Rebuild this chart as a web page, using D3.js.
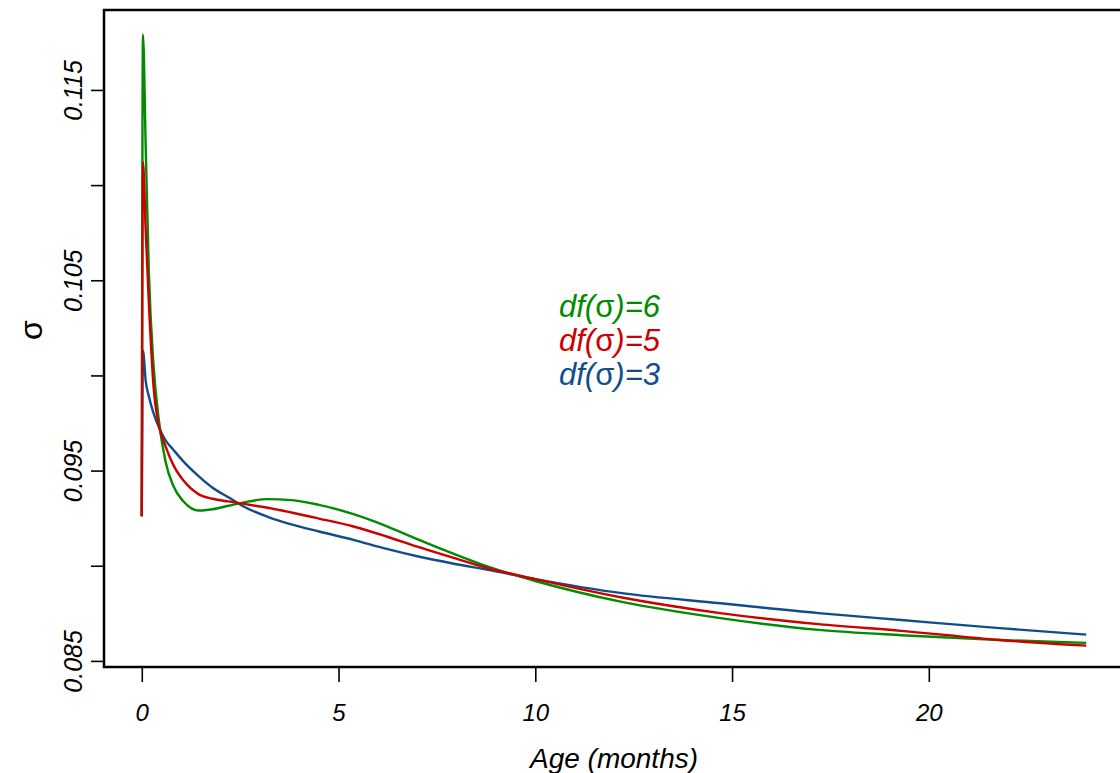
<!DOCTYPE html>
<html>
<head>
<meta charset="utf-8">
<script src="https://cdn.jsdelivr.net/npm/d3@7"></script>
<style>
  html, body { margin: 0; padding: 0; background: #ffffff; }
  svg { display: block; }
</style>
</head>
<body>
<svg id="chart" width="1120" height="773"></svg>
<script>
// ---- data ----
const ages      = [0, 0.03, 0.1, 0.18, 0.3, 0.43, 0.6, 0.8, 1.05, 1.45, 1.8, 2.2, 2.6, 3.2, 3.8, 4.5, 5.4, 6.2, 7, 7.9, 8.8, 10, 12.2, 14.7, 17.2, 19.3, 21.8, 24];
const sigmaDf6  = [0.0926, 0.1179, 0.1120, 0.1054, 0.1005, 0.0977, 0.0955, 0.0942, 0.0934, 0.0929, 0.09297, 0.09315, 0.09333, 0.0935, 0.09345, 0.0932, 0.0927, 0.0921, 0.0914, 0.09065, 0.08995, 0.0892, 0.0881, 0.08725, 0.08663, 0.08635, 0.0861, 0.08595];
const sigmaDf5  = [0.0926, 0.1112, 0.1076, 0.1038, 0.0994, 0.0974, 0.0963, 0.0953, 0.0945, 0.09375, 0.09352, 0.09338, 0.09325, 0.09305, 0.0928, 0.09248, 0.09205, 0.09155, 0.0910, 0.09043, 0.08987, 0.0893, 0.08833, 0.08751, 0.08693, 0.08658, 0.0861, 0.0858];
const sigmaDf3  = [0.0926, 0.1013, 0.0997, 0.0989, 0.0980, 0.0973, 0.0966, 0.0961, 0.0955, 0.0947, 0.0941, 0.0936, 0.0931, 0.09257, 0.09217, 0.0918, 0.09135, 0.0909, 0.0905, 0.09012, 0.08978, 0.0893, 0.08856, 0.08803, 0.08751, 0.08715, 0.08672, 0.08638];
const seriesNames  = ["df3", "df6", "df5"];
const seriesLabels = { df6: "6", df5: "5", df3: "3" };
const legendOrder  = ["df6", "df5", "df3"];
const xTicks = [0, 5, 10, 15, 20];
const yTicks = [0.085, 0.090, 0.095, 0.100, 0.105, 0.110, 0.115];
const yTickLabels = { "0.085": "0.085", "0.095": "0.095", "0.105": "0.105", "0.115": "0.115" };
const xTitle = "Age (months)";
const yTitle = "σ";

// ---- styles ----
const colors = { df6: "#008B00", df5: "#CD0000", df3: "#104E8B" };
const values = { df6: sigmaDf6, df5: sigmaDf5, df3: sigmaDf3 };
const font = "'Liberation Sans', Arial, Helvetica, sans-serif";

const box = { left: 104, top: 10, right: 1124, bottom: 667 };

const svg = d3.select("#chart");

const x = d3.scaleLinear().domain([-0.96, 24.96]).range([box.left, box.right]);
const y = d3.scaleLinear().domain([0.08468, 0.11920]).range([box.bottom, box.top]);

// curves
const line = d3.line()
  .x(d => x(d[0]))
  .y(d => y(d[1]))
  .curve(d3.curveMonotoneX);

seriesNames.forEach(name => {
  const pts = ages.map((a, i) => [a, values[name][i]]);
  svg.append("path")
    .datum(pts)
    .attr("d", line)
    .attr("fill", "none")
    .attr("stroke", colors[name])
    .attr("stroke-width", 2.4)
    .attr("stroke-linejoin", "round");
});

// box
svg.append("rect")
  .attr("x", box.left).attr("y", box.top)
  .attr("width", box.right - box.left).attr("height", box.bottom - box.top)
  .attr("fill", "none").attr("stroke", "#000").attr("stroke-width", 2.5);

// x axis
const xAxis = d3.axisBottom(x).tickValues(xTicks).tickSize(14).tickPadding(22).tickFormat(d3.format("d"));
const gx = svg.append("g").attr("transform", `translate(0,${box.bottom + 1})`).call(xAxis);
gx.select(".domain").remove();
gx.selectAll(".tick line").attr("stroke", "#000").attr("stroke-width", 1.6);
gx.selectAll(".tick text")
  .attr("fill", "#000")
  .style("font-family", font).style("font-style", "italic").style("font-size", "24px");

// y axis
const yAxis = d3.axisLeft(y).tickValues(yTicks).tickSize(13)
  .tickFormat(d => yTickLabels[d3.format(".3f")(d)] || "");
const gy = svg.append("g").attr("transform", `translate(${box.left},0)`).call(yAxis);
gy.select(".domain").remove();
gy.selectAll(".tick line").attr("stroke", "#000").attr("stroke-width", 1.6);
gy.selectAll(".tick text")
  .attr("x", null).attr("dy", null)
  .attr("text-anchor", "middle")
  .attr("transform", "translate(-22,0) rotate(-90)")
  .attr("fill", "#000")
  .style("font-family", font).style("font-style", "italic").style("font-size", "25px");

// axis titles
svg.append("text")
  .attr("x", (box.left + box.right) / 2).attr("y", 768)
  .attr("text-anchor", "middle")
  .style("font-family", font).style("font-style", "italic").style("font-size", "28px")
  .text(xTitle);

svg.append("text")
  .attr("transform", "translate(42,330) rotate(-90)")
  .attr("text-anchor", "middle")
  .style("font-family", font).style("font-size", "32px")
  .text(yTitle);

// legend text
legendOrder.forEach((name, i) => {
  const t = svg.append("text")
    .attr("x", 559).attr("y", 317 + i * 34)
    .attr("fill", colors[name])
    .style("font-family", font).style("font-size", "31px");
  t.append("tspan").style("font-style", "italic").text("df(");
  t.append("tspan").style("font-style", "normal").text("σ");
  t.append("tspan").style("font-style", "italic").text(")=" + seriesLabels[name]);
});
</script>
</body>
</html>
